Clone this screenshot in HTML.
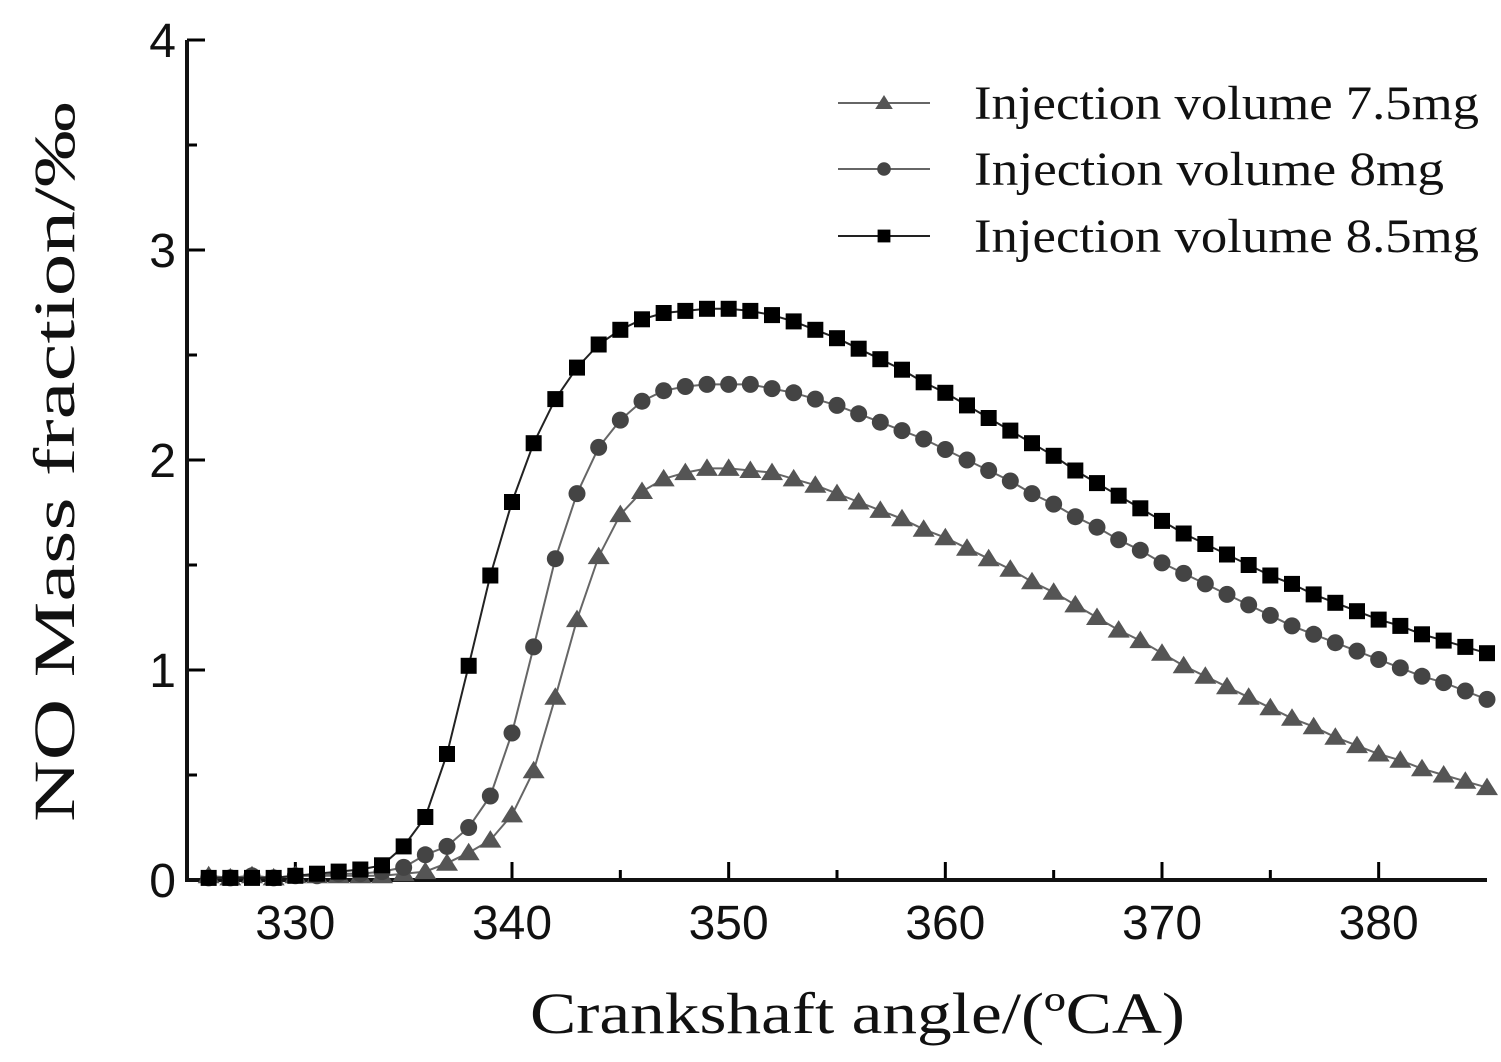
<!DOCTYPE html>
<html><head><meta charset="utf-8"><style>
html,body{margin:0;padding:0;background:#fff}
svg{display:block}
</style></head><body>
<svg id="chart" width="1501" height="1062" viewBox="0 0 1501 1062" xmlns="http://www.w3.org/2000/svg">
<g id="plot"></g>
</svg>
<script>
const angles = [];
for (let a = 326; a <= 385; a++) angles.push(a);
const xTicks = [330, 340, 350, 360, 370, 380];
const yTicks = [0, 1, 2, 3, 4];
const seriesNames = ["Injection volume 7.5mg", "Injection volume 8mg", "Injection volume 8.5mg"];
const vol75 = [0.02,0.01,0.02,0.01,0.02,0.02,0.02,0.02,0.02,0.03,0.04,0.08,0.13,0.19,0.31,0.52,0.87,1.24,1.54,1.74,1.85,1.91,1.94,1.96,1.96,1.95,1.94,1.91,1.88,1.84,1.80,1.76,1.72,1.67,1.63,1.58,1.53,1.48,1.42,1.37,1.31,1.25,1.19,1.14,1.08,1.02,0.97,0.92,0.87,0.82,0.77,0.73,0.68,0.64,0.60,0.57,0.53,0.50,0.47,0.44];
const vol8 = [0.01,0.01,0.02,0.01,0.02,0.02,0.03,0.03,0.04,0.06,0.12,0.16,0.25,0.40,0.70,1.11,1.53,1.84,2.06,2.19,2.28,2.33,2.35,2.36,2.36,2.36,2.34,2.32,2.29,2.26,2.22,2.18,2.14,2.10,2.05,2.00,1.95,1.90,1.84,1.79,1.73,1.68,1.62,1.57,1.51,1.46,1.41,1.36,1.31,1.26,1.21,1.17,1.13,1.09,1.05,1.01,0.97,0.94,0.90,0.86];
const vol85 = [0.01,0.01,0.01,0.01,0.02,0.03,0.04,0.05,0.07,0.16,0.30,0.60,1.02,1.45,1.80,2.08,2.29,2.44,2.55,2.62,2.67,2.70,2.71,2.72,2.72,2.71,2.69,2.66,2.62,2.58,2.53,2.48,2.43,2.37,2.32,2.26,2.20,2.14,2.08,2.02,1.95,1.89,1.83,1.77,1.71,1.65,1.60,1.55,1.50,1.45,1.41,1.36,1.32,1.28,1.24,1.21,1.17,1.14,1.11,1.08];

const X0 = 187, X1 = 1487, Y0 = 880, Y1 = 40;
const xMin = 325, xMax = 385, yMin = 0, yMax = 4;
const xs = v => X0 + (v - xMin) / (xMax - xMin) * (X1 - X0);
const ys = v => Y0 - (v - yMin) / (yMax - yMin) * (Y0 - Y1);
const NS = "http://www.w3.org/2000/svg";
const g = document.getElementById("plot");
function mk(tag, attrs, parent) {
  const e = document.createElementNS(NS, tag);
  for (const k in attrs) e.setAttribute(k, attrs[k]);
  (parent || g).appendChild(e);
  return e;
}
const sans = '"Liberation Sans", sans-serif';
const serif = '"Liberation Serif", serif';

xTicks.forEach(t => {
  const l = mk("line", {x1: xs(t), x2: xs(t), y1: Y0, y2: Y0 - 18, stroke: "#000", "stroke-width": 3});
  
  
  const tx = mk("text", {x: xs(t), y: 939, "text-anchor": "middle", "font-family": sans, "font-size": 48, fill: "#111"});
  tx.textContent = t;
  
  
});
for (let t = 325; t <= 385; t += 10) {
  if (t <= xMin || t >= xMax) continue;
  const l = mk("line", {x1: xs(t), x2: xs(t), y1: Y0, y2: Y0 - 10, stroke: "#000", "stroke-width": 3});
  
  
}
yTicks.forEach(t => {
  const l = mk("line", {x1: X0, x2: X0 + 18, y1: ys(t), y2: ys(t), stroke: "#000", "stroke-width": 3});
  
  
  const tx = mk("text", {x: 176, y: ys(t) + 17, "text-anchor": "end", "font-family": sans, "font-size": 48, fill: "#111"});
  tx.textContent = t;
  
  
});
for (let t = 0.5; t < 4; t += 1) {
  const l = mk("line", {x1: X0, x2: X0 + 10, y1: ys(t), y2: ys(t), stroke: "#000", "stroke-width": 3});
  
  
}
const ax = mk("path", {d: `M${X0} ${Y1} L${X0} ${Y0} L${X1} ${Y0}`, fill: "none", stroke: "#111", "stroke-width": 4});



function marker(type, x, y, color, s, parent) {
  let e;
  if (type === "tri") e = mk("polygon", {points: `${x},${y - s} ${x - s * 1.1},${y + s * 0.75} ${x + s * 1.1},${y + s * 0.75}`, fill: color}, parent);
  else if (type === "circ") e = mk("circle", {cx: x, cy: y, r: s * 0.85, fill: color}, parent);
  else e = mk("rect", {x: x - s * 0.8, y: y - s * 0.8, width: s * 1.6, height: s * 1.6, fill: color}, parent);
  return e;
}
const series = [
  {vals: vol75, type: "tri", color: "#555", line: "#666", name: "series-7-5mg"},
  {vals: vol8, type: "circ", color: "#444", line: "#666", name: "series-8mg"},
  {vals: vol85, type: "sq", color: "#000", line: "#222", name: "series-8-5mg"}
];
series.forEach(s => {
  const sg = mk("g", {});
  
  
  const pts = s.vals.map((v, i) => `${xs(angles[i])},${ys(v)}`).join(" ");
  const pl = mk("polyline", {points: pts, fill: "none", stroke: s.line, "stroke-width": 2}, sg);
  
  
  s.vals.forEach((v, i) => {
    const m = marker(s.type, xs(angles[i]), ys(v), s.color, 10, sg);
    
    
  });
});
const lg = mk("g", {});


const legY = [103, 169, 236];
const legW = [505, 470, 505];
series.forEach((s, i) => {
  const ly = legY[i];
  const ln = mk("line", {x1: 838, x2: 930, y1: ly, y2: ly, stroke: s.line, "stroke-width": 2}, lg);
  
  
  const m = marker(s.type, 884, ly, s.color, 8, lg);
  
  
  const t = mk("text", {x: 974, y: ly + 16, "font-family": serif, "font-size": 48, fill: "#111", textLength: legW[i], lengthAdjust: "spacingAndGlyphs"}, lg);
  t.textContent = seriesNames[i];
  
  
});
const xt = mk("text", {x: 530, y: 1033, "font-family": serif, "font-size": 58, fill: "#111", textLength: 655, lengthAdjust: "spacingAndGlyphs"});
xt.textContent = "Crankshaft angle/(ºCA)";


const yt = mk("text", {x: 0, y: 0, "font-family": serif, "font-size": 58, fill: "#111", textLength: 720, lengthAdjust: "spacingAndGlyphs", transform: "translate(74,822) rotate(-90)"});
yt.textContent = "NO Mass fraction/‰";


</script>
</body></html>
